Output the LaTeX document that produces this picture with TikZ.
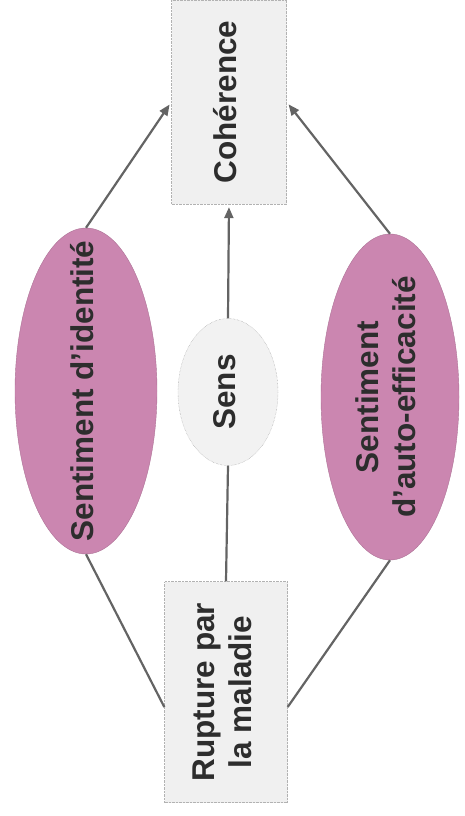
\documentclass[tikz,border=0pt]{standalone}
\usepackage{fontspec}
\setmainfont{Liberation Sans}
\usepackage{tikz}
\usetikzlibrary{
  arrows.meta,
  calc,
  positioning,
  shapes.geometric,
}
\definecolor{mauve}{RGB}{203,134,176}
\definecolor{fleche}{RGB}{100,100,100}
\definecolor{texte}{RGB}{45,45,45}
% texte tourne, sans taille propre
\newcommand{\txt}[1]{\makebox[0pt]{\raisebox{-.5\totalheight}[0pt][0pt]{\rotatebox{90}{\begin{tabular}{@{}c@{}}#1\end{tabular}}}}}

\begin{document}
\begin{tikzpicture}[x=1pt, y=-1pt,
  box/.style={draw=gray!60, densely dotted, fill=gray!12, inner sep=0pt, text=texte, font=\fontsize{31.5}{37}\selectfont\bfseries},
  oval/.style={ellipse, draw=mauve!85!black, fill=mauve, inner sep=0pt, text=texte, font=\fontsize{31.5}{37}\selectfont\bfseries},
  fl/.style={draw=fleche, line width=2.2pt, -{Triangle[length=11pt,width=9pt]}, shorten >=3pt},
  ligne/.style={draw=fleche, line width=2.2pt}]
\useasboundingbox (0,0) rectangle (465,816);

\node[box, minimum width=115pt, minimum height=204pt] (coh) at (229,102) {\txt{Cohérence}};
\node[box, minimum width=123pt, minimum height=221pt] (rup) at (226,692) {\txt{Rupture par\\la maladie}};
\node[oval, minimum width=142pt, minimum height=326pt] (ident) at (86,391) {\txt{Sentiment d'identité}};
\node[oval, minimum width=138pt, minimum height=326pt] (auto) at (390,397) {\txt{Sentiment\\d'auto-efficacité}};
\node[oval, fill=gray!10, draw=gray!85, densely dotted, minimum width=100pt, minimum height=147pt] (sens) at (228,392) {\txt{Sens}};

\draw[fl] (ident.north) -- (coh.west);
\draw[fl] (auto.north) -- (coh.east);
\draw[fl] (sens.north) -- (coh.south);
\draw[ligne] (rup.north) -- (sens.south);
\draw[ligne] (ident.south) -- ([yshift=-15pt]rup.west);
\draw[ligne] (auto.south) -- ([yshift=-15pt]rup.east);
\end{tikzpicture}
\end{document}
